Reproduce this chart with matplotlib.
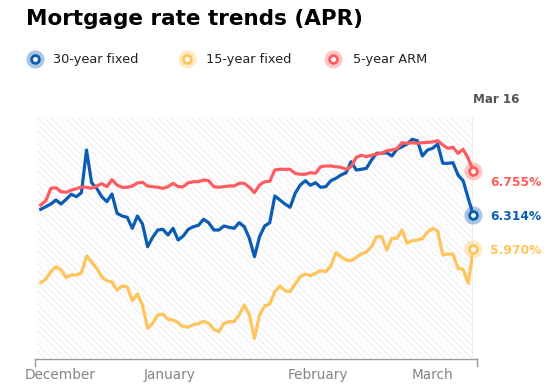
import numpy as np
import matplotlib.pyplot as plt
from matplotlib.patches import Rectangle
from matplotlib.lines import Line2D

# APR readings, Dec -> Mar 16 (one value per reported day)
rate_30 = [6.371, 6.397, 6.424, 6.464, 6.424, 6.471, 6.521, 6.497, 6.537, 6.964,
           6.637, 6.581, 6.497, 6.447, 6.524, 6.331, 6.304, 6.291, 6.181, 6.304,
           6.224, 5.997, 6.091, 6.164, 6.171, 6.114, 6.181, 6.064, 6.104, 6.171,
           6.197, 6.211, 6.271, 6.237, 6.164, 6.164, 6.204, 6.191, 6.181, 6.237,
           6.197, 6.081, 5.897, 6.097, 6.204, 6.237, 6.504, 6.464, 6.424, 6.391,
           6.531, 6.614, 6.657, 6.611, 6.637, 6.591, 6.597, 6.657, 6.681, 6.714,
           6.737, 6.847, 6.764, 6.771, 6.781, 6.864, 6.931, 6.931, 6.937, 6.904,
           6.971, 6.997, 7.024, 7.071, 7.057, 6.904, 6.964, 6.981, 7.024, 6.831,
           6.831, 6.837, 6.714, 6.657, 6.481, 6.314]
rate_15 = [5.637, 5.671, 5.747, 5.797, 5.764, 5.687, 5.714, 5.714, 5.737, 5.904,
           5.847, 5.781, 5.697, 5.657, 5.644, 5.564, 5.604, 5.597, 5.457, 5.524,
           5.414, 5.181, 5.231, 5.314, 5.324, 5.271, 5.264, 5.237, 5.197, 5.194,
           5.217, 5.227, 5.251, 5.231, 5.171, 5.147, 5.231, 5.247, 5.247, 5.314,
           5.414, 5.314, 5.081, 5.314, 5.404, 5.424, 5.547, 5.604, 5.557, 5.547,
           5.624, 5.697, 5.724, 5.707, 5.731, 5.757, 5.747, 5.804, 5.937, 5.897,
           5.864, 5.857, 5.891, 5.924, 5.944, 5.997, 6.097, 6.097, 5.964, 6.081,
           6.081, 6.164, 6.031, 6.057, 6.064, 6.077, 6.144, 6.181, 6.154, 5.914,
           5.924, 5.924, 5.781, 5.771, 5.631, 5.970]
arm_5 = [6.414, 6.457, 6.581, 6.587, 6.547, 6.541, 6.561, 6.577, 6.594, 6.591,
         6.581, 6.604, 6.627, 6.597, 6.667, 6.614, 6.591, 6.591, 6.604, 6.634,
         6.641, 6.604, 6.597, 6.591, 6.581, 6.597, 6.631, 6.597, 6.597, 6.637,
         6.647, 6.647, 6.664, 6.657, 6.597, 6.591, 6.597, 6.604, 6.604, 6.631,
         6.631, 6.591, 6.537, 6.614, 6.647, 6.651, 6.764, 6.771, 6.771, 6.771,
         6.731, 6.721, 6.721, 6.737, 6.731, 6.797, 6.804, 6.804, 6.797, 6.791,
         6.771, 6.797, 6.891, 6.911, 6.897, 6.911, 6.924, 6.931, 6.957, 6.964,
         6.977, 7.037, 7.031, 7.037, 7.031, 7.037, 7.041, 7.044, 7.057, 7.014,
         6.981, 6.991, 6.931, 6.971, 6.881, 6.755]

series_names = ['30-year fixed', '15-year fixed', '5-year ARM']
month_names = ['December', 'January', 'February', 'March']
month_pos = [3.85, 25.3, 54.5, 77.0]
last_date = 'Mar 16'

BLUE = '#0a5cb4'
YELLOW = '#ffc45c'
RED = '#ff5c5f'

W, H = 549, 386
fx = lambda x: x / W
fy = lambda y: 1 - y / H

plt.rcParams['font.family'] = 'DejaVu Sans'
plt.rcParams['hatch.linewidth'] = 1.0

fig = plt.figure(figsize=(W / 100, H / 100), dpi=100)
ax = fig.add_axes([fx(37), fy(358), (473.3 - 37) / W, 240 / H])

x = np.arange(len(rate_30))
last = x[-1]
ax.set_xlim(-0.73, last)
ax.set_ylim(4.884, 7.284)

# striped background
ax.add_patch(Rectangle((0, 0), 1, 1, transform=ax.transAxes, facecolor='white',
                       edgecolor='#f1f1f1', hatch='\\' * 5, lw=0, zorder=0))
ax.axvline(last, color='#bdbdbd', lw=1, zorder=1)

ax.plot(x, rate_15, color=YELLOW, lw=2.3, zorder=3)
ax.plot(x, rate_30, color=BLUE, lw=2.3, zorder=3)
ax.plot(x, arm_5, color=RED, lw=2.3, zorder=3)

def ring(a, px, py, c, **kw):
    a.scatter([px], [py], s=170, color=c, alpha=0.35, lw=0, clip_on=False, zorder=5, **kw)
    a.plot([px], [py], 'o', ms=5.6, mfc='white', mec=c, mew=2.0, clip_on=False, zorder=6, **kw)

for vals, c, dy in [(arm_5, RED, -7), (rate_30, BLUE, 0), (rate_15, YELLOW, 0)]:
    ring(ax, last, vals[-1], c)
    ax.annotate('%.3f%%' % vals[-1], (last, vals[-1]), xytext=(12, dy),
                textcoords='offset points', ha='left', va='center_baseline',
                color=c, fontsize=8.8, weight='bold', annotation_clip=False)

for s in ax.spines.values():
    s.set_visible(False)
ax.set_yticks([])
ax.set_xticks(month_pos, month_names)
ax.tick_params(axis='x', length=0, pad=7, labelsize=9.8, labelcolor='#858585')

# bottom axis line with end ticks
ov = fig.add_axes([0, 0, 1, 1], zorder=-1)
ov.set_xlim(0, W)
ov.set_ylim(H, 0)
ov.axis('off')
ov.add_line(Line2D([35.3, 476.6], [359, 359], color='#9a9a9a', lw=1))
ov.add_line(Line2D([35.3, 35.3], [359, 365.5], color='#9a9a9a', lw=1))
ov.add_line(Line2D([476.6, 476.6], [359, 365.5], color='#9a9a9a', lw=1))

fig.text(fx(473), fy(103), last_date, fontsize=8.6, weight='bold', color='#555555',
         ha='left', va='baseline')

fig.text(fx(26), fy(25), 'Mortgage rate trends (APR)', fontsize=15.5,
         weight='bold', color='black', ha='left', va='baseline')

leg = fig.add_axes([0, 0, 1, 1], zorder=2)
leg.set_xlim(0, W)
leg.set_ylim(H, 0)
leg.axis('off')
for name, c, cx, tx in zip(series_names, [BLUE, YELLOW, RED], [35, 186.7, 333.3], [53, 206, 352.7]):
    ring(leg, cx, 58.5, c)
    leg.text(tx, 63.3, name, fontsize=9.3, color='#222222', ha='left', va='baseline')

fig.savefig('out.png', dpi=100)
